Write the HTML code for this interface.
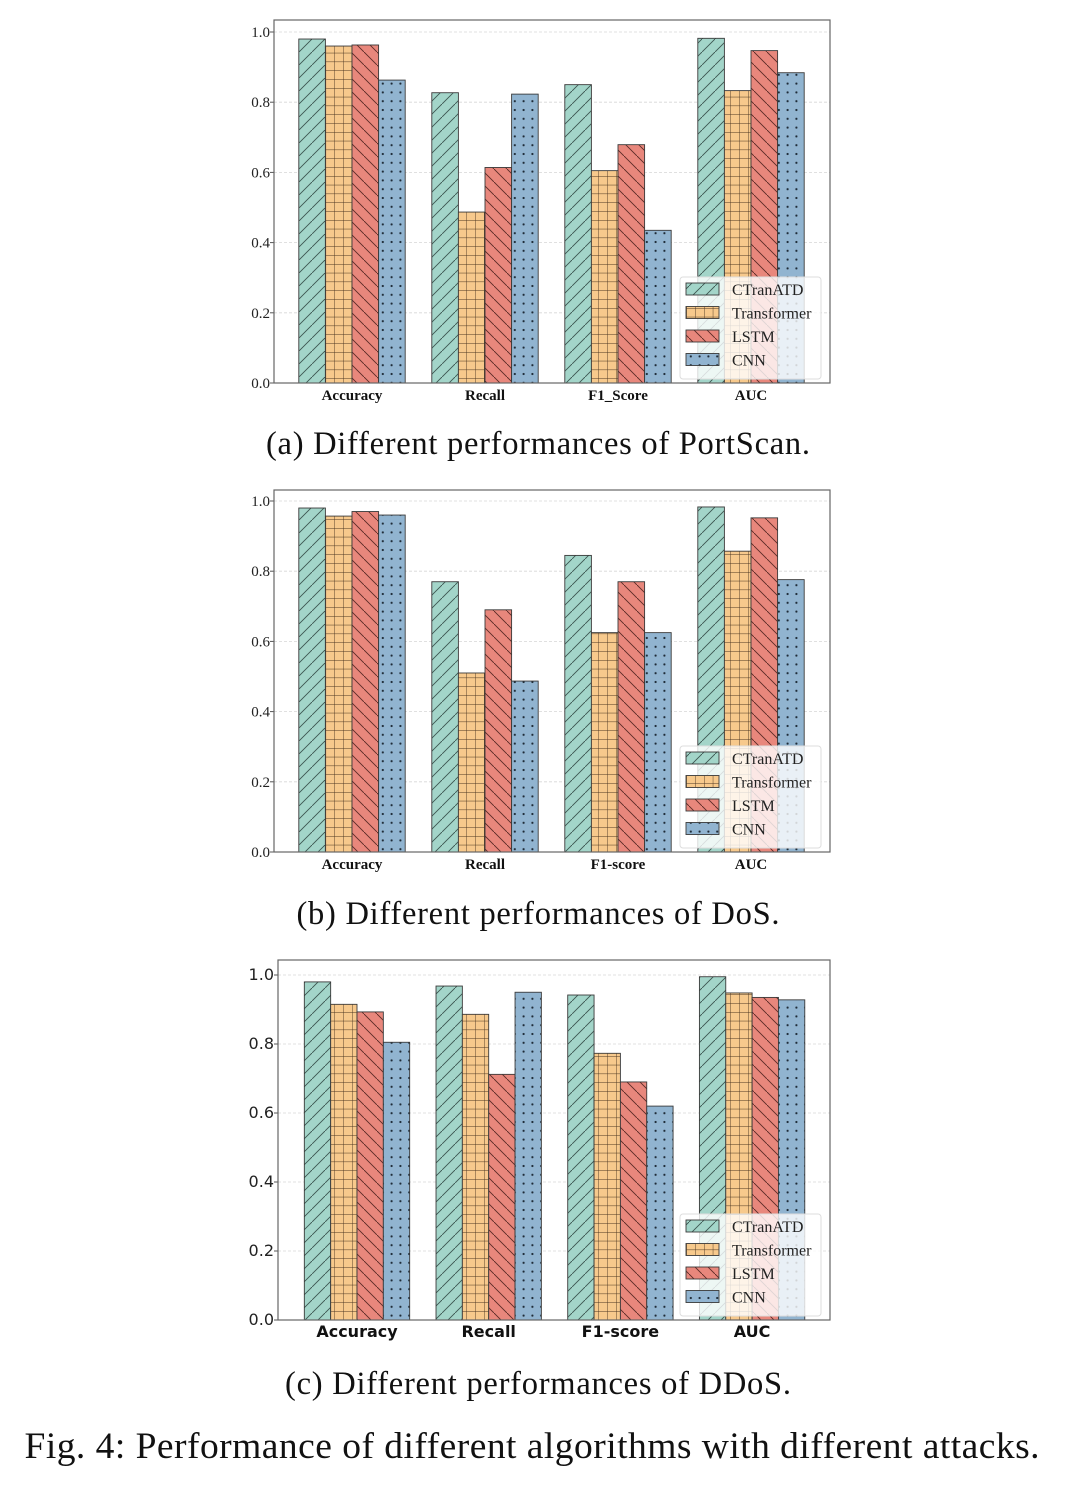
<!DOCTYPE html>
<html><head><meta charset="utf-8"><style>
body{margin:0;background:#fff;width:1080px;height:1494px;overflow:hidden;font-family:"Liberation Serif",serif}
svg{position:absolute;left:0;top:0}
</style></head><body>
<svg id="fig" width="1080" height="1494">
<defs>
<pattern id="p-diag" patternUnits="userSpaceOnUse" width="13" height="13"><rect width="13" height="13" fill="#a3d5c9"/><path d="M-2,15 L15,-2" stroke="#3b5550" stroke-width="0.9"/></pattern>
<pattern id="p-grid" patternUnits="userSpaceOnUse" width="8.8" height="8.8"><rect width="8.8" height="8.8" fill="#f7c98c"/><path d="M0,0 H8.8 M0,0 V8.8" stroke="#4a3420" stroke-width="0.9"/></pattern>
<pattern id="p-back" patternUnits="userSpaceOnUse" width="13" height="13"><rect width="13" height="13" fill="#e8877c"/><path d="M-2,-2 L15,15" stroke="#5a2a25" stroke-width="0.9"/></pattern>
<pattern id="p-dot" patternUnits="userSpaceOnUse" width="8.8" height="8.8"><rect width="8.8" height="8.8" fill="#91b4d0"/><circle cx="4.4" cy="4.4" r="1.1" fill="#1d2a36"/></pattern>
</defs>
</svg>
<script>
const categoriesA=["Accuracy","Recall","F1_Score","AUC"];
const categoriesB=["Accuracy","Recall","F1-score","AUC"];
const categoriesC=["Accuracy","Recall","F1-score","AUC"];
const seriesNames=["CTranATD","Transformer","LSTM","CNN"];
const valuesA_CTranATD=[0.980,0.827,0.850,0.982];
const valuesA_Transformer=[0.960,0.487,0.605,0.833];
const valuesA_LSTM=[0.963,0.614,0.679,0.947];
const valuesA_CNN=[0.863,0.823,0.435,0.884];
const valuesB_CTranATD=[0.980,0.770,0.845,0.983];
const valuesB_Transformer=[0.957,0.510,0.625,0.857];
const valuesB_LSTM=[0.970,0.690,0.770,0.952];
const valuesB_CNN=[0.960,0.487,0.625,0.776];
const valuesC_CTranATD=[0.980,0.968,0.942,0.995];
const valuesC_Transformer=[0.915,0.886,0.773,0.948];
const valuesC_LSTM=[0.893,0.712,0.690,0.935];
const valuesC_CNN=[0.805,0.950,0.620,0.928];
const yTicks=["0.0","0.2","0.4","0.6","0.8","1.0"];

const NS="http://www.w3.org/2000/svg";
const svg=document.getElementById('fig');
const fills=["url(#p-diag)","url(#p-grid)","url(#p-back)","url(#p-dot)"];
function mk(tag,attrs,parent){const e=document.createElementNS(NS,tag);for(const k in attrs)e.setAttribute(k,attrs[k]);(parent||svg).appendChild(e);return e;}

function chart(cfg){
  const g=mk('g',{});
  
  
  const y=v=>cfg.y0-(cfg.y0-cfg.y1)*v;
  const x=i=>cfg.c0+cfg.step*i;
  const bw=cfg.step*0.2;
  yTicks.forEach(t=>{
    const v=parseFloat(t);
    if(v>0){const gl=mk('line',{x1:cfg.L,x2:cfg.R,y1:y(v),y2:y(v),stroke:'#d6d6d6','stroke-width':0.8,'stroke-dasharray':'3,2'},g);
    
    }
    const tk=mk('line',{x1:cfg.L-4,x2:cfg.L,y1:y(v),y2:y(v),stroke:'#555'},g);
    
    
    const tl=mk('text',{x:cfg.L-4,y:y(v)+5,'text-anchor':'end','font-size':cfg.tickSize,'font-family':cfg.font,fill:'#222'},g);
    tl.textContent=t;
    
    
  });
  cfg.series.forEach((vals,s)=>{
    vals.forEach((v,i)=>{
      const bx=x(i)-2*bw+s*bw;
      const r=mk('rect',{x:bx,y:y(v),width:bw,height:y(0)-y(v),fill:fills[s],stroke:'#3a3a3a','stroke-width':0.9},g);
      
      
    });
  });
  cfg.cats.forEach((c,i)=>{
    const t=mk('text',{x:x(i),y:cfg.y0+17,'text-anchor':'middle','font-size':cfg.catSize,'font-weight':'bold','font-family':cfg.font,fill:'#111'},g);
    t.textContent=c;
    
    
  });
  const box=mk('rect',{x:cfg.L,y:cfg.T,width:cfg.R-cfg.L,height:cfg.y0-cfg.T,fill:'none',stroke:'#666','stroke-width':1.2},g);
  
  
  const lg=mk('g',{},g);
  
  
  const ly=cfg.legTop;
  mk('rect',{x:680,y:ly,width:141,height:102,rx:3,fill:'rgba(255,255,255,0.8)',stroke:'#ddd'},lg);
  seriesNames.forEach((n,s)=>{
    const ey=ly+12+s*23.5;
    const p=mk('rect',{x:686,y:ey-6,width:33,height:12,fill:fills[s],stroke:'#3a3a3a','stroke-width':0.9},lg);
    
    
    const t=mk('text',{x:732,y:ey+6,'font-size':16,'font-family':'Liberation Serif, serif',fill:'#222'},lg);
    t.textContent=n;
    
    
  });
  const cap=mk('text',{x:538,y:cfg.capY,'text-anchor':'middle','font-size':32.5,'font-family':'Liberation Serif, serif',fill:'#111',textLength:cfg.capW,lengthAdjust:'spacing'});
  cap.textContent=cfg.caption;
  
  
}
chart({name:'chart-portscan',L:274,R:830,T:20,y0:383,y1:32,c0:352,step:133,cats:categoriesA,
  series:[valuesA_CTranATD,valuesA_Transformer,valuesA_LSTM,valuesA_CNN],tickSize:15,catSize:15,font:'Liberation Serif, serif',
  legTop:277,capY:454,capW:544,caption:'(a) Different performances of PortScan.'});
chart({name:'chart-dos',L:274,R:830,T:490,y0:852,y1:501,c0:352,step:133,cats:categoriesB,
  series:[valuesB_CTranATD,valuesB_Transformer,valuesB_LSTM,valuesB_CNN],tickSize:15,catSize:15,font:'Liberation Serif, serif',
  legTop:746,capY:924,capW:483,caption:'(b) Different performances of DoS.'});
chart({name:'chart-ddos',L:278,R:830,T:960,y0:1320,y1:975,c0:357,step:131.7,cats:categoriesC,
  series:[valuesC_CTranATD,valuesC_Transformer,valuesC_LSTM,valuesC_CNN],tickSize:16,catSize:16,font:'DejaVu Sans, sans-serif',
  legTop:1214,capY:1394,capW:506,caption:'(c) Different performances of DDoS.'});
const fc=mk('text',{x:532,y:1458,'text-anchor':'middle','font-size':37.5,'font-family':'Liberation Serif, serif',fill:'#111',textLength:1015,lengthAdjust:'spacing'});
fc.textContent='Fig. 4: Performance of different algorithms with different attacks.';


</script>
</body></html>
